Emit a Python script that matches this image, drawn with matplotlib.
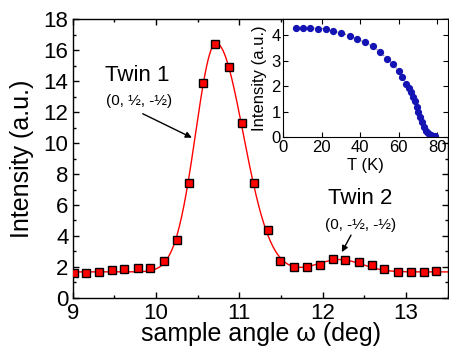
import numpy as np
import matplotlib.pyplot as plt
from matplotlib.ticker import MultipleLocator

plt.rcParams['font.family'] = ['Liberation Sans', 'DejaVu Sans']

# rocking curve, sample angle omega (deg) vs intensity
omega = [9.01, 9.16, 9.31, 9.47, 9.62, 9.78, 9.93, 10.09, 10.25, 10.40,
         10.56, 10.71, 10.87, 11.03, 11.18, 11.34, 11.49, 11.65, 11.81, 11.97,
         12.12, 12.27, 12.44, 12.59, 12.74, 12.91, 13.06, 13.22, 13.36]
intensity = [1.60, 1.60, 1.68, 1.79, 1.87, 1.92, 1.92, 2.37, 3.73, 7.43,
             13.92, 16.40, 14.93, 11.31, 7.39, 4.38, 2.37, 1.97, 1.97, 2.11,
             2.50, 2.44, 2.29, 2.11, 1.84, 1.66, 1.66, 1.66, 1.75]
intensity_err = [0.15] * len(omega)

# fit: baseline + split gaussian (twin 1) + gaussian (twin 2)
baseline = 1.67
twin1_fit = [14.8, 10.72, 0.245, 0.325]   # amp, centre, sigma left, sigma right
twin2_fit = [0.8, 12.2, 0.27]             # amp, centre, sigma

# inset: temperature dependence
temp = [6.5, 10, 14, 18, 22, 26, 30, 34.5, 38.5, 42.5, 46.5, 50.5, 54, 57, 60,
        62, 64, 65.2, 66.3, 67.3, 68.3, 69.3, 70.2, 71.2, 72.1, 73.1, 74.2,
        75.4, 76.6, 77.8, 78.8]
temp_int = [4.30, 4.30, 4.29, 4.26, 4.26, 4.15, 4.10, 3.98, 3.85, 3.72, 3.57,
            3.33, 3.08, 2.89, 2.59, 2.37, 2.10, 1.94, 1.78, 1.60, 1.42, 1.20,
            0.99, 0.80, 0.60, 0.41, 0.27, 0.16, 0.10, 0.07, 0.05]


def fit_curve(x):
    a, c, sl, sr = twin1_fit
    s = np.where(x < c, sl, sr)
    y = baseline + a * np.exp(-(x - c) ** 2 / (2 * s ** 2))
    a2, c2, s2 = twin2_fit
    return y + a2 * np.exp(-(x - c2) ** 2 / (2 * s2 ** 2))


fig = plt.figure(figsize=(4.49, 3.47), dpi=100)
ax = fig.add_axes([0.162, 0.142, 0.835, 0.802])

xs = np.linspace(9, 13.5, 500)
ax.plot(xs, fit_curve(xs), color='red', lw=1.0, zorder=2)
ax.errorbar(omega, intensity, yerr=intensity_err, fmt='s', ms=5.5,
            mfc='red', mec='black', mew=1.0, ecolor='black', elinewidth=1.0,
            capsize=2.5, capthick=1.0, zorder=3)

ax.set_xlim(9, 13.5)
ax.set_ylim(0, 18)
ax.xaxis.set_major_locator(MultipleLocator(1))
ax.xaxis.set_minor_locator(MultipleLocator(0.5))
ax.yaxis.set_major_locator(MultipleLocator(2))
ax.yaxis.set_minor_locator(MultipleLocator(1))
ax.tick_params(which='both', direction='in', top=True, right=True, width=1.0)
ax.tick_params(which='major', length=4.5, labelsize=16)
ax.tick_params(which='minor', length=2.5)
ax.tick_params(axis='x', which='major', pad=4)
ax.tick_params(axis='y', which='major', pad=3)
for sp in ax.spines.values():
    sp.set_linewidth(1.0)

ax.set_xlabel('sample angle ω (deg)', fontsize=18, va='baseline')
ax.xaxis.set_label_coords(0.502, -0.154)
ax.set_ylabel('Intensity (a.u.)', fontsize=18)
ax.yaxis.set_label_coords(-0.103, 0.5)

ax.text(9.77, 14.4, 'Twin 1', fontsize=16, ha='center', va='center')
ax.text(9.8, 12.7, '(0, ½, -½)', fontsize=11, ha='center', va='center')
ax.annotate('', xy=(10.43, 10.35), xytext=(9.84, 11.9),
            arrowprops=dict(arrowstyle='-|>', color='black', lw=1.0,
                            mutation_scale=9, shrinkA=0, shrinkB=0))

ax.text(12.45, 6.45, 'Twin 2', fontsize=16, ha='center', va='center')
ax.text(12.45, 4.7, '(0, -½, -½)', fontsize=11, ha='center', va='center')
ax.annotate('', xy=(12.23, 2.95), xytext=(12.34, 4.05),
            arrowprops=dict(arrowstyle='-|>', color='black', lw=1.0,
                            mutation_scale=9, shrinkA=0, shrinkB=0))

# inset
ins = fig.add_axes([0.631, 0.604, 0.366, 0.340])
ins.plot(temp, temp_int, ls=':', color='dimgray', lw=0.8, marker='o', ms=4.2,
         mfc='#1414b4', mec='#1414b4')
ins.set_xlim(0, 85.5)
ins.set_ylim(0, 4.62)
ins.xaxis.set_major_locator(MultipleLocator(20))
ins.yaxis.set_major_locator(MultipleLocator(1))
ins.tick_params(direction='in', top=True, right=True, length=3.5,
                labelsize=12, pad=2)
ins.set_xlabel('T (K)', fontsize=12, labelpad=2)
ins.set_ylabel('Intensity (a.u.)', fontsize=12, labelpad=3)

fig.savefig('out.png', dpi=100)
